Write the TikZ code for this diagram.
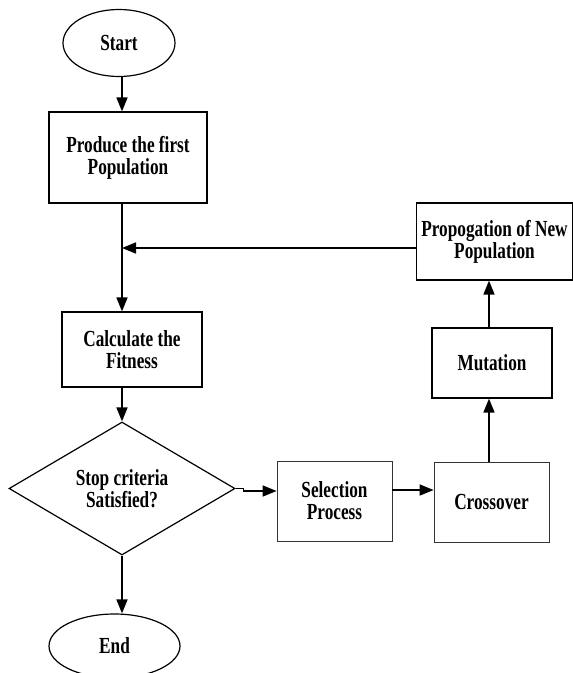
\documentclass[tikz,border=0pt]{standalone}
\usepackage{fontspec}
\setmainfont{Liberation Serif}[FakeStretch=0.75]
\usetikzlibrary{shapes.geometric,arrows.meta,calc}
\tikzset{
  lbl/.style={font=\fontsize{23}{22}\selectfont\bfseries, align=center, inner sep=0pt},
  box/.style={lbl, draw, line width=1.2pt, rectangle},
  thinbox/.style={lbl, draw=black!80, line width=0.8pt, rectangle},
  oval/.style={lbl, draw, line width=1.2pt, ellipse},
  decide/.style={lbl, draw, line width=1.2pt, diamond},
  arr/.style={line width=1.7pt, -{Triangle[length=14pt,width=11pt]}},
  ln/.style={line width=1.7pt}
}
\begin{document}
\begin{tikzpicture}[x=1pt,y=-1pt]
\clip (0,0) rectangle (573,673);
\fill[white] (0,0) rectangle (573,673);
\node[oval, minimum width=112pt, minimum height=67pt] (start) at (119,43) {Start};
\node[box, minimum width=158pt, minimum height=91pt] (produce) at (128,157.5) {Produce the first\\Population};
\node[box, minimum width=140pt, minimum height=75pt] (calc) at (132,349.5) {Calculate the\\Fitness};
\node[decide, minimum width=226pt, minimum height=133pt] (stop) at (122,488.5) {Stop criteria\\Satisfied?};
\node[oval, minimum width=131pt, minimum height=64pt] (end) at (114.5,646) {End};
\node[thinbox, minimum width=115pt, minimum height=80pt] (sel) at (334.5,501) {Selection\\Process};
\node[thinbox, minimum width=115pt, minimum height=80pt] (cross) at (491.5,502) {Crossover};
\node[box, minimum width=120pt, minimum height=70pt] (mut) at (492,363) {Mutation};
\node[box, minimum width=156pt, minimum height=77pt] (prop) at (494.5,241.5) {Propogation of New\\Population};
\coordinate (j) at (122,248);
\draw[arr] (start.south -| j) -- (j |- produce.north);
\draw[arr] (j |- produce.south) -- (j |- calc.north);
\draw[arr] (prop.west |- j) -- (j);
\draw[arr] (j |- calc.south) -- (stop.north);
\draw[arr] (stop.south) -- (stop.south |- end.north);
\draw[arr] (stop.east) -- ($(stop.east)+(8,0)$) |- ($(sel.west)+(0,-10)$);
\draw[arr] ($(sel.east)+(0,-11)$) -- ($(sel.east -| cross.west)+(0,-11)$);
\draw[arr] ($(cross.north)+(-2.5,0)$) -- ($(cross.north |- mut.south)+(-2.5,0)$);
\draw[arr] ($(mut.north)+(-3,0)$) -- ($(mut.north |- prop.south)+(-3,0)$);
\end{tikzpicture}
\end{document}
